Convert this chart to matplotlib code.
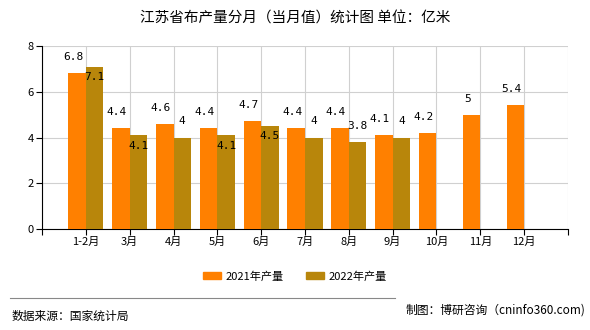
import matplotlib

matplotlib.use("Agg")
import matplotlib.pyplot as plt
from matplotlib.patches import Patch

plt.rcParams["font.family"] = ["Noto Sans CJK SC", "DejaVu Sans"]

months = ["1-2月", "3月", "4月", "5月", "6月", "7月", "8月", "9月", "10月", "11月", "12月"]
v2021 = [6.8, 4.4, 4.6, 4.4, 4.7, 4.4, 4.4, 4.1, 4.2, 5.0, 5.4]
v2022 = [7.1, 4.1, 4.0, 4.1, 4.5, 4.0, 3.8, 4.0]
lab2021 = ["6.8", "4.4", "4.6", "4.4", "4.7", "4.4", "4.4", "4.1", "4.2", "5", "5.4"]
lab2022 = ["7.1", "4.1", "4", "4.1", "4.5", "4", "3.8", "4"]

c2021 = "#ff8000"
c2022 = "#b8860b"

# 2022 labels drawn inside the bar top for these ones (as in the source chart)
inside22 = [True, True, False, True, True, False, False, False]

fig = plt.figure(figsize=(5.9, 3.3), dpi=100)
ax = fig.add_axes([0.0712, 0.306, 0.8915, 0.5546])

w = 0.4
x21 = [i + 1 - w / 2 for i in range(len(v2021))]
x22 = [i + 1 + w / 2 for i in range(len(v2022))]
ax.bar(x21, v2021, width=w, color=c2021, zorder=3)
ax.bar(x22, v2022, width=w, color=c2022, zorder=3)

mono = "DejaVu Sans Mono"
for x, v, t in zip(x21, v2021, lab2021):
    ax.annotate(t, (x, v), xytext=(-3, 8), textcoords="offset points",
                ha="center", va="bottom", fontsize=8, family=mono, zorder=4)
for x, v, t, inside in zip(x22, v2022, lab2022, inside22):
    dy = -11 if inside else 8
    ax.annotate(t, (x, v), xytext=(0, dy), textcoords="offset points",
                ha="center", va="bottom", fontsize=8, family=mono, zorder=4)

ax.set_xlim(0, 12)
ax.set_ylim(0, 8)
ax.set_yticks([0, 2, 4, 6, 8])
ax.set_xticks(range(0, 13))
ax.set_xticklabels([""] + months + [""])
ax.tick_params(axis="both", labelsize=8, length=4, color="black", pad=2)
ax.grid(True, color="#d0d0d0", linewidth=0.8, zorder=0)
for s in ["top", "right"]:
    ax.spines[s].set_visible(False)
ax.spines["left"].set_color("black")
ax.spines["bottom"].set_color("black")

fig.text(0.5, 0.945, "江苏省布产量分月（当月值）统计图 单位：亿米", ha="center",
         va="center", fontsize=10.5)

handles = [Patch(color=c2021, label="2021年产量"), Patch(color=c2022, label="2022年产量")]
fig.legend(handles=handles, loc="center", bbox_to_anchor=(0.5, 0.163), ncol=2,
           frameon=False, fontsize=8, handlelength=1.6, handleheight=0.7,
           columnspacing=2.0, handletextpad=0.4)

fig.add_artist(plt.Line2D([0.017, 0.67], [0.097, 0.097], color="#888888", linewidth=0.8))
fig.text(0.02, 0.042, "数据来源：国家统计局", ha="left", va="center", fontsize=8.5)
fig.text(0.992, 0.06, "制图：博研咨询（cninfo360.com)", ha="right", va="center", fontsize=8.5)

fig.savefig("out.png", dpi=100)
